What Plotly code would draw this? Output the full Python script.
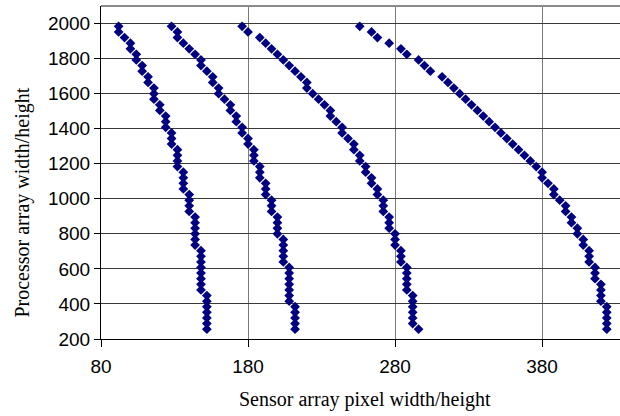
import plotly.graph_objects as go

# Processor array width/height (y) shared by all four series
proc_size = [1984, 1952, 1920, 1888, 1856, 1824, 1792, 1760, 1728, 1696,
             1664, 1632, 1600, 1568, 1536, 1504, 1472, 1440, 1408, 1376,
             1344, 1312, 1280, 1248, 1216, 1184, 1152, 1120, 1088, 1056,
             1024, 992, 960, 928, 896, 864, 832, 800, 768, 736,
             704, 672, 640, 608, 576, 544, 512, 480, 448, 416,
             384, 352, 320, 288, 256]

# Sensor array pixel width/height (x) for each series
series_1 = [92, 92, 96, 100, 100, 104, 104, 108, 108, 112,
            112, 116, 116, 116, 120, 120, 124, 124, 124, 128,
            128, 128, 132, 132, 132, 132, 136, 136, 136, 136,
            140, 140, 140, 140, 144, 144, 144, 144, 144, 144,
            148, 148, 148, 148, 148, 148, 148, 148, 152, 152,
            152, 152, 152, 152, 152]
series_2 = [128, 132, 132, 136, 140, 144, 148, 148, 152, 156,
            156, 160, 160, 164, 168, 168, 172, 172, 176, 176,
            180, 180, 184, 184, 184, 188, 188, 188, 192, 192,
            192, 196, 196, 196, 200, 200, 200, 200, 204, 204,
            204, 204, 204, 208, 208, 208, 208, 208, 208, 208,
            212, 212, 212, 212, 212]
series_3 = [176, 180, 188, 192, 196, 200, 204, 208, 212, 216,
            220, 220, 224, 228, 232, 236, 236, 240, 244, 244,
            248, 252, 252, 256, 256, 260, 260, 264, 264, 268,
            268, 272, 272, 272, 276, 276, 276, 280, 280, 280,
            284, 284, 284, 288, 288, 288, 288, 288, 292, 292,
            292, 292, 292, 292, 296]
series_4 = [256, 264, 268, 276, 284, 288, 296, 300, 304, 312,
            316, 320, 324, 328, 332, 336, 340, 344, 348, 352,
            356, 360, 364, 368, 372, 376, 380, 380, 384, 388,
            388, 392, 396, 396, 400, 400, 404, 404, 408, 408,
            412, 412, 412, 416, 416, 416, 420, 420, 420, 420,
            424, 424, 424, 424, 424]

x_ticks = [80, 180, 280, 380]
y_ticks = [200, 400, 600, 800, 1000, 1200, 1400, 1600, 1800, 2000]

x_title = "Sensor array pixel width/height"
y_title = "Processor array width/height"

fig = go.Figure()
for xs in [series_1, series_2, series_3, series_4]:
    fig.add_trace(go.Scatter(
        x=xs, y=proc_size, mode="markers",
        marker=dict(symbol="diamond", size=7.5, color="#000080",
                    line=dict(width=0)),
        showlegend=False, hoverinfo="skip", cliponaxis=False))

tick_font = dict(family="Liberation Sans, Arial, sans-serif", size=19, color="#000000")
title_font = dict(family="Liberation Serif, Times New Roman, serif", size=20, color="#000000")

fig.update_layout(
    width=620, height=416,
    margin=dict(l=101, r=0, t=6, b=77),
    paper_bgcolor="#ffffff", plot_bgcolor="#ffffff",
    xaxis=dict(range=[80, 433], tickvals=x_ticks, ticktext=[str(v) for v in x_ticks],
               showgrid=True, gridcolor="#7a7a7a", gridwidth=1,
               showline=True, linecolor="#000000", linewidth=1,
               ticks="outside", ticklen=7, tickcolor="#000000",
               tickfont=tick_font, zeroline=False, ticklabelstandoff=3),
    yaxis=dict(range=[200, 2100], tickvals=y_ticks, ticktext=[str(v) for v in y_ticks],
               showgrid=True, gridcolor="#3a3a3a", gridwidth=1,
               showline=True, linecolor="#000000", linewidth=1,
               ticks="outside", ticklen=6, tickcolor="#000000",
               tickfont=tick_font, zeroline=False),
    shapes=[dict(type="line", xref="paper", yref="paper", x0=0, x1=1, y0=1, y1=1,
                 line=dict(color="#8a8a8a", width=2))],
    annotations=[
        dict(text=x_title, xref="paper", yref="paper", x=0.5087, y=-0.183,
             xanchor="center", yanchor="middle", showarrow=False, font=title_font),
        dict(text=y_title, xref="paper", yref="paper", x=-0.152, y=0.41,
             xanchor="center", yanchor="middle", showarrow=False, font=title_font,
             textangle=-90),
    ],
)

fig.write_html("out.html",
               config={"displayModeBar": False, "staticPlot": True},
               post_script="document.body.style.margin='0';document.body.style.overflow='hidden';")
